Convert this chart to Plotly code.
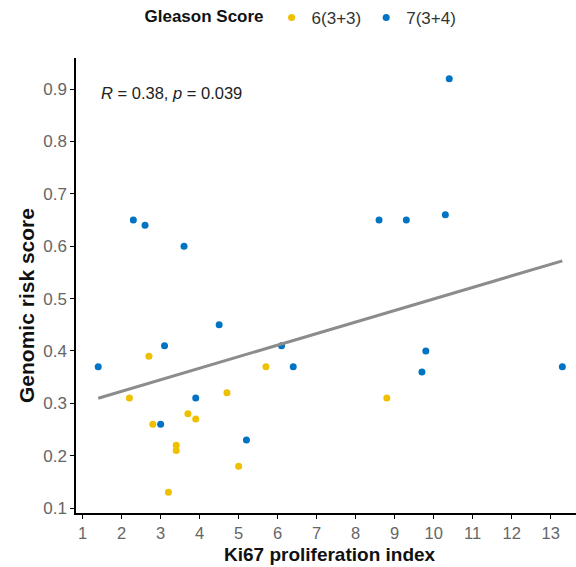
import numpy as np
import plotly.graph_objects as go

# Ki67 index and genomic risk score per Gleason group
ki67_g6 = [2.2, 2.7, 2.8, 3.2, 3.4, 3.4, 3.7, 3.9, 4.7, 5.0, 5.7, 8.8]
risk_g6 = [0.31, 0.39, 0.26, 0.13, 0.22, 0.21, 0.28, 0.27, 0.32, 0.18, 0.37, 0.31]

ki67_g7 = [1.4, 2.3, 2.6, 3.0, 3.1, 3.6, 3.9, 4.5, 5.2, 6.1, 6.4,
           8.6, 9.3, 9.7, 9.8, 10.3, 10.4, 13.3]
risk_g7 = [0.37, 0.65, 0.64, 0.26, 0.41, 0.60, 0.31, 0.45, 0.23, 0.41, 0.37,
           0.65, 0.65, 0.36, 0.40, 0.66, 0.92, 0.37]

group_names = ["6(3+3)", "7(3+4)"]
group_colors = ["#EFC000", "#0073C2"]

x_ticks = list(range(1, 14))
y_ticks = [0.1, 0.2, 0.3, 0.4, 0.5, 0.6, 0.7, 0.8, 0.9]

cor_label = "<i>R</i> = 0.38, <i>p</i> = 0.039"

# pooled linear fit
x_all = np.array(ki67_g6 + ki67_g7)
y_all = np.array(risk_g6 + risk_g7)
slope, intercept = np.polyfit(x_all, y_all, 1)
x_fit = np.array([x_all.min(), x_all.max()])
y_fit = intercept + slope * x_fit

FONT = "Liberation Sans, Arial, sans-serif"
TICK_GRAY = "#666666"

fig = go.Figure()
for xs, ys, name, col in [(ki67_g6, risk_g6, group_names[0], group_colors[0]),
                          (ki67_g7, risk_g7, group_names[1], group_colors[1])]:
    fig.add_trace(go.Scatter(
        x=xs, y=ys, mode="markers", name=name,
        marker=dict(color=col, size=7, line=dict(width=0)),
    ))

fig.add_trace(go.Scatter(
    x=x_fit, y=y_fit, mode="lines", showlegend=False,
    line=dict(color="#8C8C8C", width=3),
))

fig.update_layout(
    width=576, height=567,
    margin=dict(l=76, r=0, t=58, b=54),
    paper_bgcolor="white", plot_bgcolor="white",
    font=dict(family=FONT, size=16, color="#222222"),
    showlegend=True,
    legend=dict(
        orientation="h", x=0.133, xanchor="left", y=1.088, yanchor="middle",
        title=dict(text="<b>Gleason Score</b>", font=dict(size=17, color="#111111")),
        font=dict(size=17, color="#333333"),
        itemsizing="trace",
    ),
    xaxis=dict(
        range=[0.83, 13.65], tickvals=x_ticks, showgrid=False, zeroline=False,
        showline=True, linecolor="black", linewidth=1.5,
        ticks="outside", ticklen=4, tickwidth=1.2, tickcolor="black",
        tickfont=dict(size=16.5, color=TICK_GRAY),
    ),
    yaxis=dict(
        range=[0.0905, 0.9595], tickvals=y_ticks, tickformat=".1f",
        showgrid=False, zeroline=False,
        showline=True, linecolor="black", linewidth=1.5,
        ticks="outside", ticklen=4, tickwidth=1.2, tickcolor="black",
        tickfont=dict(size=17, color=TICK_GRAY),
    ),
    annotations=[
        dict(text=cor_label, x=1.42, y=0.893, xref="x", yref="y",
             xanchor="left", yanchor="middle", showarrow=False,
             font=dict(size=16.5, color="#222222")),
        dict(text="<b>Ki67 proliferation index</b>", x=0.508, y=-0.092,
             xref="paper", yref="paper", xanchor="center", yanchor="middle",
             showarrow=False, font=dict(size=19, color="#111111")),
        dict(text="<b>Genomic risk score</b>", x=-0.098, y=0.455,
             xref="paper", yref="paper", xanchor="center", yanchor="middle",
             textangle=-90, showarrow=False, font=dict(size=21, color="#111111")),
    ],
)

fig.write_html("out.html")
